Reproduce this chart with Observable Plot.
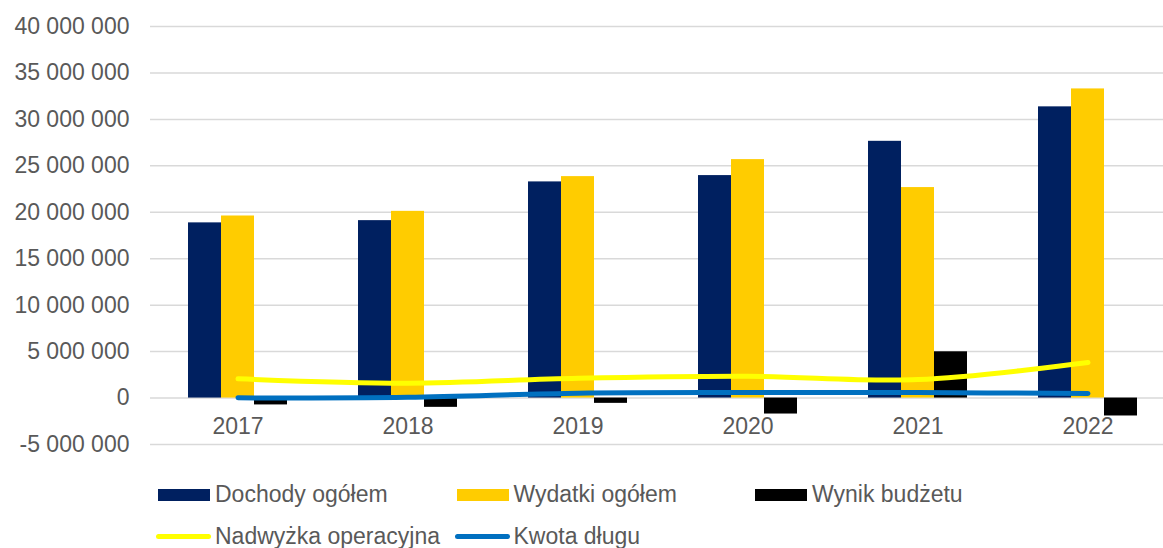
<!DOCTYPE html>
<html>
<head>
<meta charset="utf-8">
<script src="https://cdn.jsdelivr.net/npm/d3@7"></script>
<script src="https://cdn.jsdelivr.net/npm/@observablehq/plot@0.6"></script>
<style>
  html, body { margin: 0; padding: 0; background: #fff; }
  body { width: 1163px; height: 548px; overflow: hidden; font-family: "Liberation Sans", Arial, sans-serif; }
  #legend {
    display: grid;
    grid-template-columns: repeat(3, 298.5px);
    grid-auto-rows: 41.5px;
    margin-left: 156px;
    margin-top: 14px;
    font-size: 23px;
    color: #595959;
  }
  .item { display: flex; align-items: center; white-space: nowrap; }
  .sw-rect { width: 52px; height: 12px; margin-left: 2px; margin-right: 5px; }
  .sw-line { width: 55px; height: 5px; border-radius: 2.5px; margin-right: 4px; }
</style>
</head>
<body>
<div id="chart"></div>
<div id="legend"></div>
<script>
// ---- data ----
const years = ["2017", "2018", "2019", "2020", "2021", "2022"];
const dochody = [18860000, 19100000, 23270000, 23950000, 27640000, 31350000];
const wydatki = [19600000, 20100000, 23840000, 25670000, 22660000, 33280000];
const wynik = [-740000, -1000000, -570000, -1720000, 4980000, -1930000];
const nadwyzka = [2070000, 1600000, 2130000, 2350000, 1990000, 3820000];
const dlug = [20000, 90000, 520000, 590000, 590000, 480000];
const yTicks = [-5000000, 0, 5000000, 10000000, 15000000, 20000000, 25000000, 30000000, 35000000, 40000000];
const seriesNames = ["Dochody ogółem", "Wydatki ogółem", "Wynik budżetu", "Nadwyżka operacyjna", "Kwota długu"];
const seriesColors = ["#002060", "#FFCC00", "#000000", "#FFFF00", "#0070C0"];

// ---- build tables ----
const rows = (vals) => years.map((y, i) => ({year: y, value: vals[i]}));
const dDoch = rows(dochody), dWyd = rows(wydatki), dWyn = rows(wynik);
const dNad = rows(nadwyzka), dDlug = rows(dlug);

const locale = d3.formatLocale({decimal: ",", thousands: "\u00a0", grouping: [3], currency: ["", ""], minus: "-"});
const fmt = locale.format(",d");

const barW = 33;
const textColor = "#595959";
const fs = 23;

const chart = Plot.plot({
  width: 1163,
  height: 460,
  marginLeft: 150,
  marginRight: 0,
  marginTop: 26,
  marginBottom: 16,
  style: {fontFamily: "'Liberation Sans', Arial, sans-serif", fontSize: fs + "px", color: textColor, background: "#fff"},
  x: {domain: years, range: [150, 1175], paddingInner: 0.807, paddingOuter: 0.4035, axis: null},
  y: {domain: [-5000000, 40000000], axis: null},
  marks: [
    Plot.gridY(yTicks, {stroke: "#d9d9d9", strokeOpacity: 1, strokeWidth: 1.5}),
    Plot.axisY(yTicks, {tickSize: 0, tickPadding: 21, tickFormat: fmt, fill: textColor, fontSize: fs, label: null}),
    Plot.barY(dDoch, {x: "year", y: "value", fill: seriesColors[0], dx: -barW}),
    Plot.barY(dWyd, {x: "year", y: "value", fill: seriesColors[1]}),
    Plot.barY(dWyn, {x: "year", y: "value", fill: seriesColors[2], dx: barW}),
    Plot.text(dDoch, {x: "year", y: () => 0, text: "year", dy: 29, fill: textColor, fontSize: fs}),
    Plot.line(dNad, {x: "year", y: "value", stroke: seriesColors[3], strokeWidth: 5, strokeLinecap: "round", curve: "catmull-rom"}),
    Plot.line(dDlug, {x: "year", y: "value", stroke: seriesColors[4], strokeWidth: 5, strokeLinecap: "round", curve: "catmull-rom"})
  ]
});
document.getElementById("chart").appendChild(chart);

// ---- legend ----
const legend = document.getElementById("legend");
seriesNames.forEach((name, i) => {
  const item = document.createElement("div");
  item.className = "item";
  const sw = document.createElement("span");
  sw.className = i < 3 ? "sw-rect" : "sw-line";
  sw.style.background = seriesColors[i];
  const t = document.createElement("span");
  t.textContent = name;
  item.appendChild(sw);
  item.appendChild(t);
  legend.appendChild(item);
});
</script>
</body>
</html>
